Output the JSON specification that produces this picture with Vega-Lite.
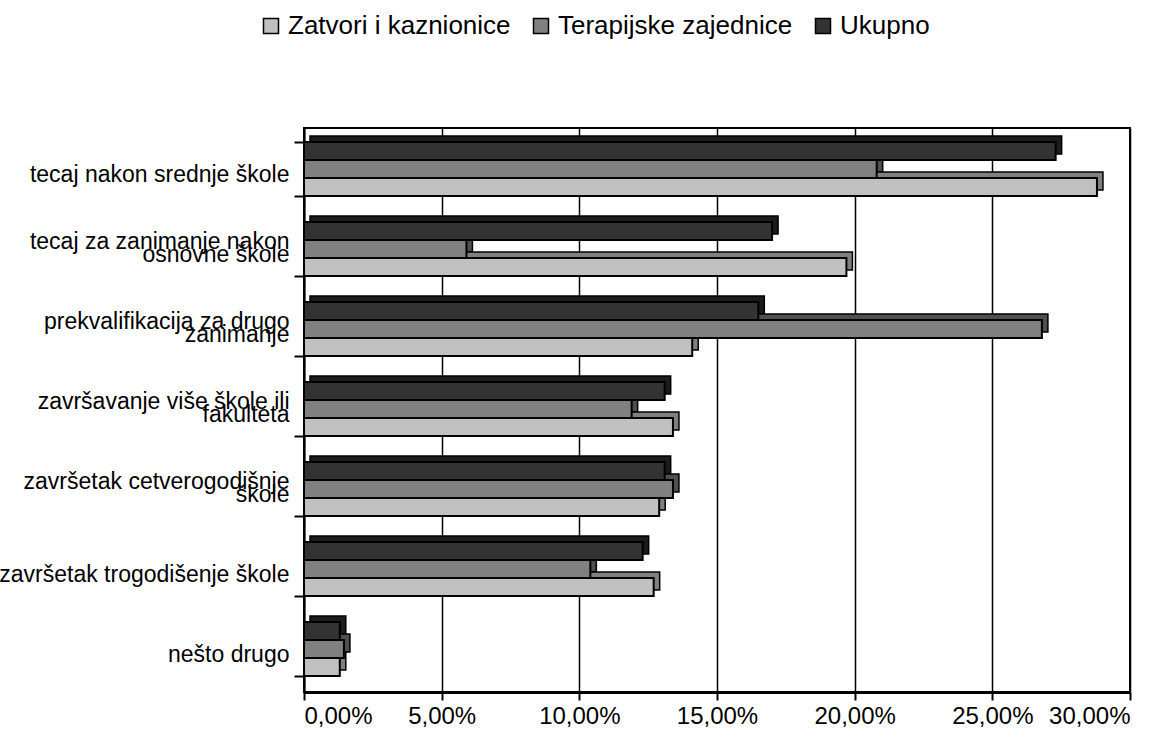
{
  "$schema": "https://vega.github.io/schema/vega-lite/v6.json",
  "width": 826,
  "height": 564,
  "autosize": {"type": "none"},
  "padding": {"left": 304, "top": 128, "right": 34, "bottom": 48},
  "config": {
    "locale": {"number": {"decimal": ",", "thousands": ".", "grouping": [3], "currency": ["", " €"]}},
    "font": "Liberation Sans",
    "view": {"stroke": "black", "strokeWidth": 2}
  },
  "data": {
    "values": [
      {"cat": "tecaj nakon srednje škole", "series": "Ukupno", "v": 0.273},
      {"cat": "tecaj nakon srednje škole", "series": "Terapijske zajednice", "v": 0.208},
      {"cat": "tecaj nakon srednje škole", "series": "Zatvori i kaznionice", "v": 0.288},
      {"cat": "tecaj za zanimanje nakon|osnovne škole", "series": "Ukupno", "v": 0.170},
      {"cat": "tecaj za zanimanje nakon|osnovne škole", "series": "Terapijske zajednice", "v": 0.059},
      {"cat": "tecaj za zanimanje nakon|osnovne škole", "series": "Zatvori i kaznionice", "v": 0.197},
      {"cat": "prekvalifikacija za drugo|zanimanje", "series": "Ukupno", "v": 0.165},
      {"cat": "prekvalifikacija za drugo|zanimanje", "series": "Terapijske zajednice", "v": 0.268},
      {"cat": "prekvalifikacija za drugo|zanimanje", "series": "Zatvori i kaznionice", "v": 0.141},
      {"cat": "završavanje više škole ili|fakulteta", "series": "Ukupno", "v": 0.131},
      {"cat": "završavanje više škole ili|fakulteta", "series": "Terapijske zajednice", "v": 0.119},
      {"cat": "završavanje više škole ili|fakulteta", "series": "Zatvori i kaznionice", "v": 0.134},
      {"cat": "završetak cetverogodišnje|škole", "series": "Ukupno", "v": 0.131},
      {"cat": "završetak cetverogodišnje|škole", "series": "Terapijske zajednice", "v": 0.134},
      {"cat": "završetak cetverogodišnje|škole", "series": "Zatvori i kaznionice", "v": 0.129},
      {"cat": "završetak trogodišenje škole", "series": "Ukupno", "v": 0.123},
      {"cat": "završetak trogodišenje škole", "series": "Terapijske zajednice", "v": 0.104},
      {"cat": "završetak trogodišenje škole", "series": "Zatvori i kaznionice", "v": 0.127},
      {"cat": "nešto drugo", "series": "Ukupno", "v": 0.013},
      {"cat": "nešto drugo", "series": "Terapijske zajednice", "v": 0.0145},
      {"cat": "nešto drugo", "series": "Zatvori i kaznionice", "v": 0.013}
    ]
  },
  "encoding": {
    "yOffset": {
      "field": "series", "type": "nominal",
      "scale": {"domain": ["Ukupno", "Terapijske zajednice", "Zatvori i kaznionice"]}
    },
    "x": {
      "field": "v", "type": "quantitative",
      "scale": {"domain": [0, 0.3], "nice": false},
      "axis": {
        "title": null, "format": ".2%", "values": [0, 0.05, 0.1, 0.15, 0.2, 0.25, 0.3],
        "labelFont": "Liberation Sans",
        "labelFontSize": 24, "labelColor": "black", "labelPadding": 4,
        "tickSize": 8, "tickColor": "black", "tickWidth": 2,
        "domainColor": "black", "domainWidth": 3,
        "grid": true, "gridColor": "black", "gridWidth": 1.5, "gridOpacity": 1
      }
    }
  },
  "layer": [
    {
      "mark": {"type": "bar", "xOffset": 6, "stroke": "black", "strokeWidth": 1.5},
      "encoding": {
        "y": {
          "field": "cat", "type": "nominal", "sort": null,
          "scale": {"paddingInner": 0.325, "paddingOuter": 0.1875, "align": 0.267},
          "axis": null
        },
        "color": {
          "field": "series", "type": "nominal",
          "scale": {"domain": ["Zatvori i kaznionice", "Terapijske zajednice", "Ukupno"], "range": ["#808080", "#505050", "#1c1c1c"]},
          "legend": null
        }
      }
    },
    {
      "mark": {"type": "bar", "stroke": "black", "strokeWidth": 2},
      "encoding": {
        "y": {
          "field": "cat", "type": "nominal", "sort": null,
          "scale": {"paddingInner": 0.325, "paddingOuter": 0.1875, "align": 0.467},
          "axis": {
            "title": null,
            "labelExpr": "indexof(datum.label, '|') >= 0 ? [split(datum.label, '|')[0], '\u00a0', split(datum.label, '|')[1]] : ['', datum.label]",
            "labelFont": "Liberation Sans",
            "labelFontSize": 23, "labelColor": "black",
            "labelLimit": 400, "labelPadding": 5,
            "labelLineHeight": 13.5,
            "labelOffset": -8,
            "tickBand": "extent", "tickSize": 10, "tickColor": "black", "tickWidth": 2,
            "domainColor": "black", "domainWidth": 2
          }
        },
        "color": {
          "field": "series", "type": "nominal",
          "scale": {"domain": ["Zatvori i kaznionice", "Terapijske zajednice", "Ukupno"], "range": ["#C0C0C0", "#808080", "#333333"]},
          "legend": {
            "title": null, "orient": "none", "direction": "horizontal",
            "legendX": -46, "legendY": -115,
            "labelFont": "Liberation Sans",
            "labelFontSize": 26, "labelColor": "black", "labelLimit": 400,
            "symbolType": "square", "symbolSize": 225, "symbolStrokeColor": "black",
            "symbolStrokeWidth": 1.5, "symbolOpacity": 1, "columnPadding": 17, "labelOffset": 4
          }
        }
      }
    }
  ],
  "resolve": {"scale": {"color": "independent", "y": "independent"}}
}
